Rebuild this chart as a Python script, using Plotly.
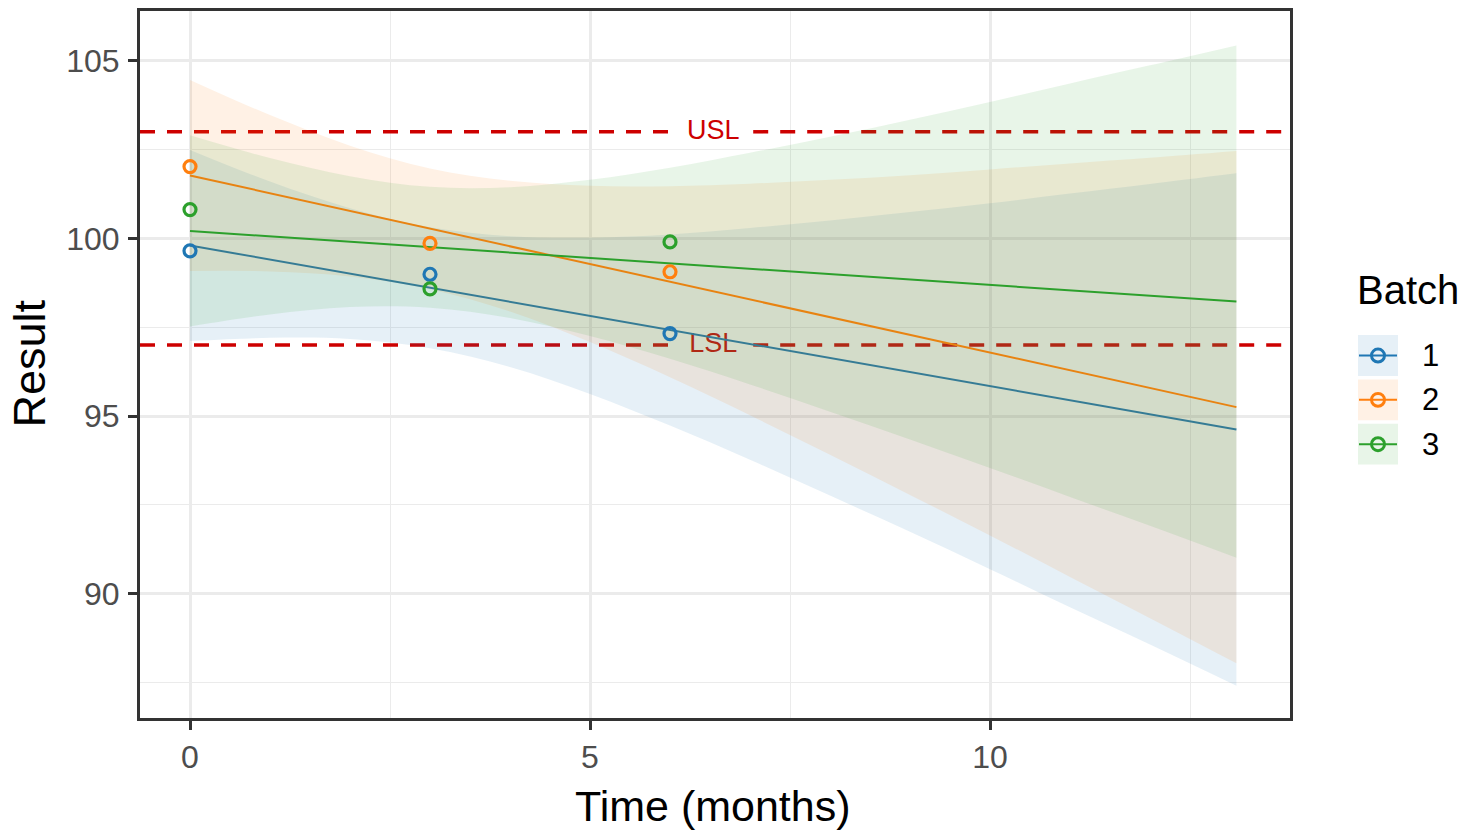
import plotly.graph_objects as go

# ---------------- data ----------------
time_points = [0, 3, 6]
batch_names = ["1", "2", "3"]
batch1_result = [99.65, 98.99, 97.32]
batch2_result = [102.02, 99.86, 99.06]
batch3_result = [100.81, 98.58, 99.90]

# fitted straight lines (start / end)
fit_time = [0, 13.08]
batch1_fit = [99.80, 94.62]
batch2_fit = [101.77, 95.25]
batch3_fit = [100.21, 98.22]

# confidence ribbons, read at these times
band_time = [0, 1, 2, 3, 4, 5, 6, 7, 8, 9, 10, 11, 12, 13.08]
batch1_lower = [97.11, 97.20, 97.17, 96.91, 96.38, 95.62, 94.73, 93.77, 92.76, 91.74, 90.69, 89.62, 88.57, 87.41]
batch1_upper = [102.49, 101.60, 100.85, 100.31, 100.06, 100.02, 100.11, 100.29, 100.50, 100.74, 100.99, 101.26, 101.53, 101.83]
batch2_lower = [99.08, 99.07, 98.93, 98.57, 97.94, 97.08, 96.09, 95.02, 93.91, 92.78, 91.64, 90.47, 89.31, 88.04]
batch2_upper = [104.46, 103.47, 102.61, 101.97, 101.62, 101.48, 101.47, 101.54, 101.65, 101.78, 101.94, 102.11, 102.27, 102.46]
batch3_lower = [97.52, 97.86, 98.07, 98.05, 97.76, 97.25, 96.61, 95.89, 95.12, 94.34, 93.54, 92.72, 91.91, 91.01]
batch3_upper = [102.90, 102.26, 101.75, 101.45, 101.44, 101.65, 101.99, 102.41, 102.86, 103.34, 103.84, 104.36, 104.87, 105.43]

spec_names = ["USL", "LSL"]
spec_values = [103, 97]
spec_label_time = 6.54

x_ticks = [0, 5, 10]
y_ticks = [90, 95, 100, 105]

# ---------------- styling ----------------
W, H = 1465, 833
ML, MR, MT, MB = 140, 175, 8, 115
PW, PH = W - ML - MR, H - MT - MB
X_RANGE = [-0.625, 13.75]
Y_RANGE = [86.5, 106.4]
FONT = "Liberation Sans, Arial, sans-serif"
colors = ["#1F77B4", "#FF7F0E", "#2CA02C"]
fills = ["rgba(31,119,180,0.11)", "rgba(255,127,14,0.11)", "rgba(44,160,44,0.11)"]
RED = "#CD0000"
GRID = "#EBEBEB"
DARK = "#333333"


def pxx(px):
    return (px - ML) / PW


def pxy(py):
    return (MT + PH - py) / PH


results = [batch1_result, batch2_result, batch3_result]
fits = [batch1_fit, batch2_fit, batch3_fit]
lowers = [batch1_lower, batch2_lower, batch3_lower]
uppers = [batch1_upper, batch2_upper, batch3_upper]

fig = go.Figure()

# spec labels (drawn beneath the ribbons)
for name, val in zip(spec_names, spec_values):
    fig.add_trace(go.Scatter(
        x=[spec_label_time], y=[val], mode="text", text=[name],
        textposition="middle center",
        textfont=dict(family=FONT, size=27, color=RED),
        showlegend=False, hoverinfo="skip"))

# smooth layers per batch: ribbon then line
for i in range(3):
    fig.add_trace(go.Scatter(
        x=band_time, y=lowers[i], mode="lines", line=dict(width=0, shape="spline"),
        showlegend=False, hoverinfo="skip"))
    fig.add_trace(go.Scatter(
        x=band_time, y=uppers[i], mode="lines", line=dict(width=0, shape="spline"),
        fill="tonexty", fillcolor=fills[i], showlegend=False, hoverinfo="skip"))
    fig.add_trace(go.Scatter(
        x=fit_time, y=fits[i], mode="lines", line=dict(color=colors[i], width=2),
        showlegend=False, hoverinfo="skip"))

# points
for i in range(3):
    fig.add_trace(go.Scatter(
        x=time_points, y=results[i], mode="markers", name=batch_names[i],
        marker=dict(symbol="circle-open", size=12, color=colors[i],
                    line=dict(width=3.2, color=colors[i])),
        showlegend=False))

shapes = []
gap = 0.5
for val in spec_values:
    for x0, x1 in [(X_RANGE[0], spec_label_time - gap), (spec_label_time + gap, X_RANGE[1])]:
        shapes.append(dict(type="line", xref="x", yref="y", x0=x0, x1=x1, y0=val, y1=val,
                           layer="between", line=dict(color=RED, width=3.5, dash="15px,12px")))

annotations = []
# legend (manual, ggplot style)
annotations.append(dict(text="Batch", x=pxx(1355), y=pxy(288), xref="paper", yref="paper",
                        xanchor="left", yanchor="middle", showarrow=False,
                        font=dict(family=FONT, size=40, color="black")))
row_centers = [354, 398.5, 443]
for i, cy in enumerate(row_centers):
    shapes.append(dict(type="rect", xref="paper", yref="paper",
                       x0=pxx(1358), x1=pxx(1398), y0=pxy(cy - 20.5), y1=pxy(cy + 20.5),
                       fillcolor=fills[i], line=dict(width=0), layer="above"))
    shapes.append(dict(type="line", xref="paper", yref="paper",
                       x0=pxx(1359), x1=pxx(1397), y0=pxy(cy), y1=pxy(cy),
                       line=dict(color=colors[i], width=2), layer="above"))
    shapes.append(dict(type="circle", xref="paper", yref="paper",
                       x0=pxx(1378 - 6.5), x1=pxx(1378 + 6.5), y0=pxy(cy + 6.5), y1=pxy(cy - 6.5),
                       line=dict(color=colors[i], width=3), fillcolor="rgba(0,0,0,0)", layer="above"))
    annotations.append(dict(text=batch_names[i], x=pxx(1420), y=pxy(cy), xref="paper", yref="paper",
                            xanchor="left", yanchor="middle", showarrow=False,
                            font=dict(family=FONT, size=31, color="black")))

# axis titles
annotations.append(dict(text="Result", x=pxx(30), y=pxy(362), xref="paper", yref="paper",
                        xanchor="center", yanchor="middle", textangle=-90, showarrow=False,
                        font=dict(family=FONT, size=45, color="black")))
annotations.append(dict(text="Time (months)", x=pxx(713), y=pxy(806), xref="paper", yref="paper",
                        xanchor="center", yanchor="middle", showarrow=False,
                        font=dict(family=FONT, size=43, color="black")))

axis_common = dict(
    showgrid=True, gridcolor=GRID, gridwidth=2.5, zeroline=False,
    showline=True, linecolor=DARK, linewidth=3, mirror=True,
    ticks="outside", ticklen=9, tickwidth=3, tickcolor=DARK,
    tickfont=dict(family=FONT, size=32, color="#4D4D4D"),
    minor=dict(dtick=2.5, showgrid=True, gridcolor=GRID, gridwidth=1.3),
)

fig.update_layout(
    width=W, height=H,
    margin=dict(l=ML, r=MR, t=MT, b=MB),
    paper_bgcolor="white", plot_bgcolor="white",
    showlegend=False,
    xaxis=dict(range=X_RANGE, tickvals=x_ticks, **axis_common),
    yaxis=dict(range=Y_RANGE, tickvals=y_ticks, ticklabelstandoff=2, **axis_common),
    shapes=shapes, annotations=annotations,
    font=dict(family=FONT),
)

fig.write_html("out.html")
